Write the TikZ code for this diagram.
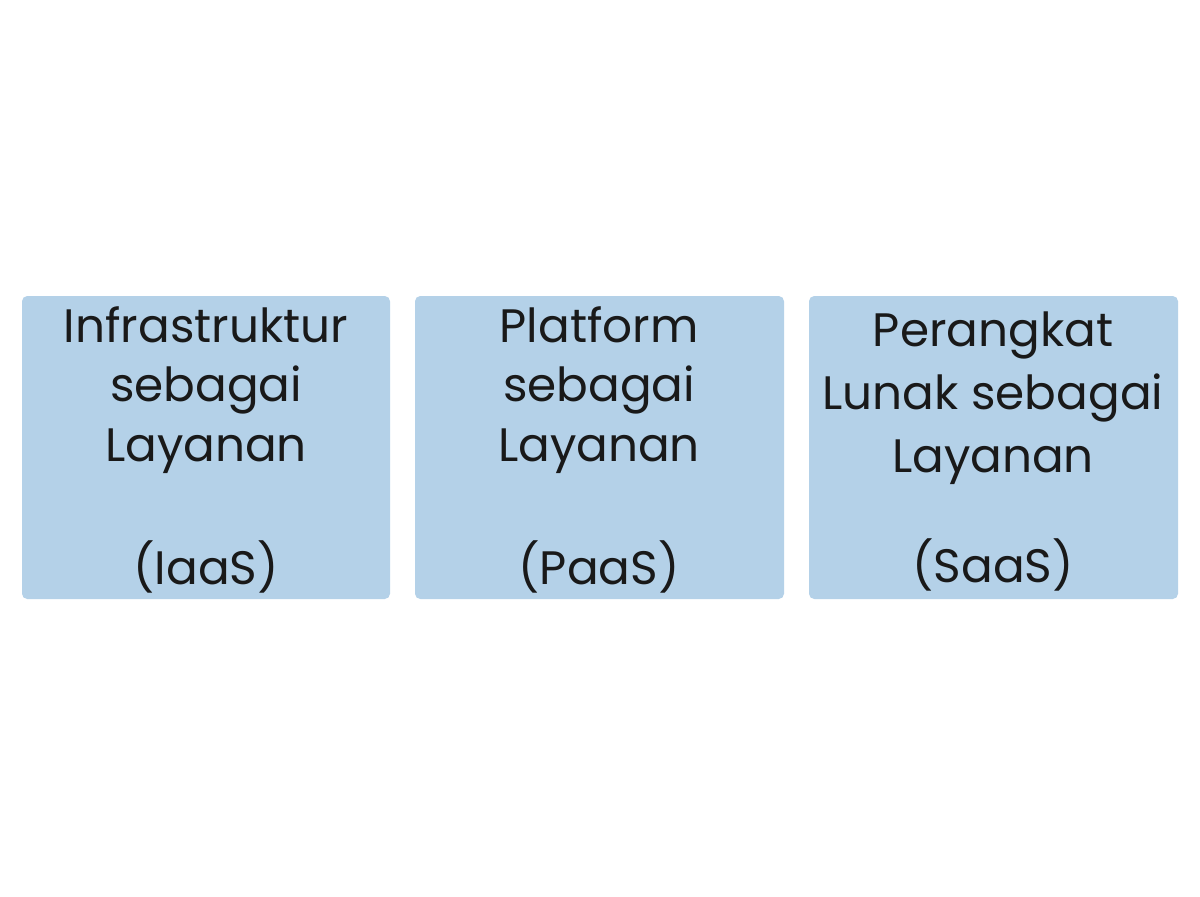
\documentclass[tikz,border=0pt]{standalone}
\usepackage{fontspec}
\setmainfont{Poppins}
\begin{document}
\begin{tikzpicture}[x=0.02cm,y=-0.02cm,
  boxs/.style={fill=boxc,draw=none,rounded corners=3pt},
  txt/.style={font=\fontsize{26.7}{34}\selectfont,align=center,text=black!90,inner sep=0}]
\definecolor{boxc}{HTML}{B4D1E8}
\useasboundingbox (0,0) rectangle (1200,896);
\fill[white] (0,0) rectangle (1200,896);
\fill[boxs] (22,296) rectangle (390,599);
\fill[boxs] (415,296) rectangle (784,599);
\fill[boxs] (809,296) rectangle (1178,599);
\node[txt] (a) at (206,390) {Infrastruktur\\sebagai\\Layanan};
\node[txt] (ab) at (206,567) {(IaaS)};
\node[txt] (b) at (599,390) {Platform\\sebagai\\Layanan};
\node[txt] (bb) at (599,567) {(PaaS)};
\node[txt,font=\fontsize{26.7}{35.7}\selectfont] (c) at (993,398) {Perangkat\\Lunak sebagai\\Layanan};
\node[txt] (cb) at (993,565) {(SaaS)};
\end{tikzpicture}
\end{document}
